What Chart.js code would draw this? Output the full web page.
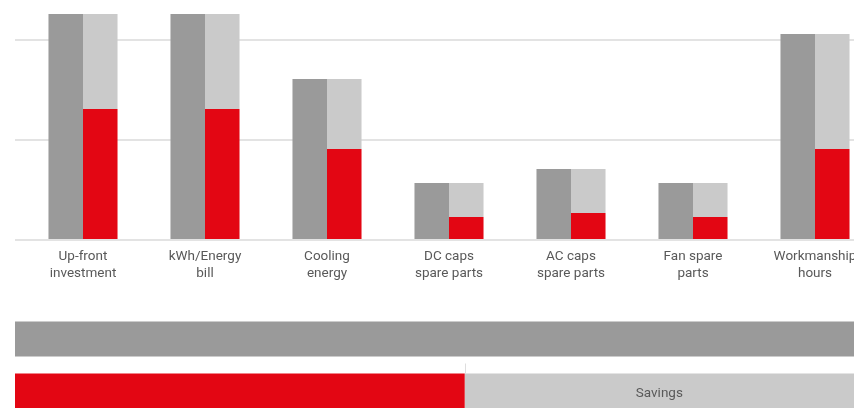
<!DOCTYPE html>
<html>
<head>
<meta charset="utf-8">
<script src="https://cdn.jsdelivr.net/npm/chart.js@4/dist/chart.umd.min.js"></script>
<style>
  html, body { margin: 0; padding: 0; background: #ffffff; overflow: hidden; width: 854px; height: 408px; }
  #top { position: absolute; left: 0; top: 0; }
  #bottom { position: absolute; left: 0; top: 313px; }
</style>
</head>
<body>
<canvas id="top" width="876" height="290"></canvas>
<canvas id="bottom" width="854" height="104"></canvas>
<script>
// ---- data ----
const categories = [
  ["Up-front", "investment"],
  ["kWh/Energy", "bill"],
  ["Cooling", "energy"],
  ["DC caps", "spare parts"],
  ["AC caps", "spare parts"],
  ["Fan spare", "parts"],
  ["Workmanship", "hours"]
];
const currentCost = [2.26, 2.26, 1.61, 0.57, 0.71, 0.57, 2.06];
const newCost     = [1.31, 1.31, 0.91, 0.23, 0.27, 0.23, 0.91];
const savingPart  = [0.95, 0.95, 0.70, 0.34, 0.44, 0.34, 1.15];
const gridTicks   = [0, 1, 2];

const summaryRows    = ["Current", "New"];
const summaryCurrent = [100, null];
const summaryNew     = [null, 53.6];
const summarySavings = [null, 46.4];
const savingsLabel   = "Savings";

const DARK = '#9a9a9a', LIGHT = '#cacaca', RED = '#e30613', TEXT = '#595959';
const FONT = 'Roboto, "Liberation Sans", Arial, sans-serif';

new Chart(document.getElementById('top'), {
  type: 'bar',
  data: {
    labels: categories,
    datasets: [
      { label: 'Current', data: currentCost, backgroundColor: DARK, stack: 'a' },
      { label: 'New', data: newCost, backgroundColor: RED, stack: 'b' },
      { label: 'Savings', data: savingPart, backgroundColor: LIGHT, stack: 'b' }
    ]
  },
  options: {
    responsive: false,
    animation: false,
    layout: { padding: { left: 15, right: 0, top: 0, bottom: 0 } },
    plugins: { legend: { display: false }, tooltip: { enabled: false } },
    datasets: { bar: { barPercentage: 1, categoryPercentage: 0.566, borderWidth: 0 } },
    scales: {
      x: {
        stacked: true,
        grid: { display: false, drawTicks: false },
        border: { display: false },
        ticks: { color: TEXT, font: { family: FONT, size: 13.5, lineHeight: 1.2 }, padding: 9, maxRotation: 0, autoSkip: false },
        afterFit: (s) => { s.height = 50; }
      },
      y: {
        stacked: true,
        min: 0, max: 2.4,
        ticks: { display: false },
        grid: { color: '#e3e3e3', lineWidth: 2, drawTicks: true, tickLength: 7 },
        border: { display: false },
        afterBuildTicks: (s) => { s.ticks = gridTicks.map(v => ({ value: v })); },
        afterFit: (s) => { s.width = 7; }
      }
    }
  }
});

const savingsPlugin = {
  id: 'savingsText',
  afterDatasetsDraw(chart) {
    const ctx = chart.ctx;
    const redEl = chart.getDatasetMeta(1).data[1];
    const savEl = chart.getDatasetMeta(2).data[1];
    ctx.save();
    // divider tick between rows
    ctx.strokeStyle = '#dedede';
    ctx.lineWidth = 1;
    const top = redEl.y - redEl.height / 2;
    ctx.beginPath();
    ctx.moveTo(Math.round(redEl.x) + 0.5, top - 10);
    ctx.lineTo(Math.round(redEl.x) + 0.5, top);
    ctx.stroke();
    // label
    ctx.fillStyle = TEXT;
    ctx.font = '13.5px ' + FONT;
    ctx.textAlign = 'center';
    ctx.textBaseline = 'middle';
    ctx.fillText(savingsLabel, (savEl.x + savEl.base) / 2, 80.5);
    ctx.restore();
  }
};

new Chart(document.getElementById('bottom'), {
  type: 'bar',
  data: {
    labels: summaryRows,
    datasets: [
      { label: 'Current', data: summaryCurrent, backgroundColor: DARK },
      { label: 'New', data: summaryNew, backgroundColor: RED },
      { label: 'Savings', data: summarySavings, backgroundColor: LIGHT }
    ]
  },
  options: {
    indexAxis: 'y',
    responsive: false,
    animation: false,
    layout: { padding: { left: 15, right: 0, top: 0, bottom: 0 } },
    plugins: { legend: { display: false }, tooltip: { enabled: false } },
    datasets: { bar: { barPercentage: 1, categoryPercentage: 0.673, borderWidth: 0 } },
    scales: {
      x: { stacked: true, min: 0, max: 100, display: false },
      y: { stacked: true, display: false }
    }
  },
  plugins: [savingsPlugin]
});
</script>
</body>
</html>
